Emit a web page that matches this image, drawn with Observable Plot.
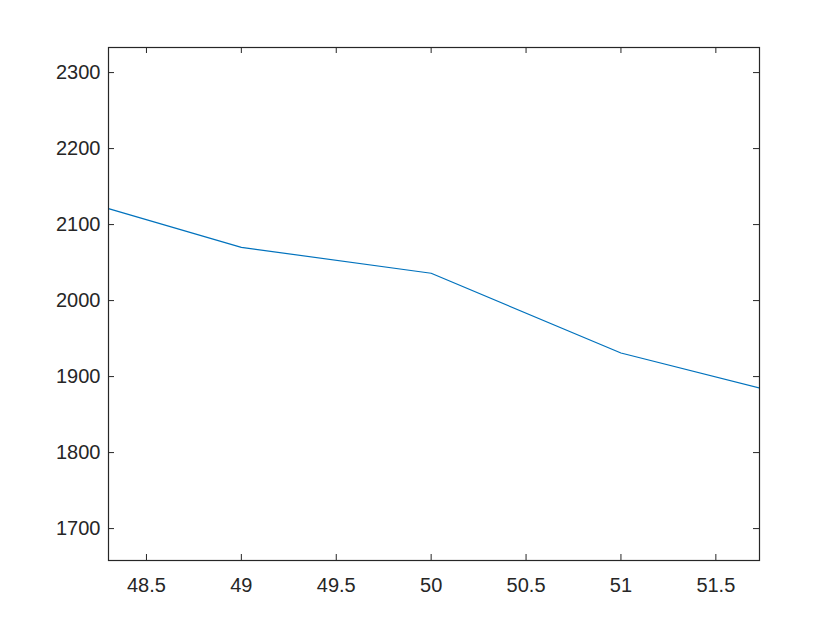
<!DOCTYPE html>
<html>
<head>
<meta charset="utf-8">
<script src="https://cdn.jsdelivr.net/npm/d3@7"></script>
<script src="https://cdn.jsdelivr.net/npm/@observablehq/plot@0.6"></script>
<style>
  html, body { margin: 0; padding: 0; background: #fff; }
</style>
</head>
<body>
<div id="chart"></div>
<script>
const xValues = [48.3, 49, 50, 51, 51.73];
const yValues = [2121, 2070, 2036, 1931, 1885];
const xTicks = [48.5, 49, 49.5, 50, 50.5, 51, 51.5];
const yTicks = [1700, 1800, 1900, 2000, 2100, 2200, 2300];
const xDomain = [48.3, 51.73];
const yDomain = [1658, 2333];

const data = xValues.map((x, i) => ({x, y: yValues[i]}));

const W = 840, H = 630;
const mL = 108, mR = 81, mT = 47, mB = 70;
const plotH = H - mT - mB;
const plotW = W - mL - mR;
const tickLen = 6;
const axisColor = "#262626";

const chart = Plot.plot({
  width: W,
  height: H,
  marginLeft: mL,
  marginRight: mR,
  marginTop: mT,
  marginBottom: mB,
  style: {fontFamily: "'Liberation Sans', Arial, Helvetica, sans-serif", fontSize: "20px", background: "#fff", color: axisColor},
  x: {domain: xDomain, label: null},
  y: {domain: yDomain, label: null},
  marks: [
    Plot.axisX({ticks: xTicks, tickSize: 0, tickPadding: 17, tickFormat: d => String(d), fontSize: 20, color: axisColor, label: null}),
    Plot.axisY({ticks: yTicks, tickSize: 0, tickPadding: 8, tickFormat: d => String(d), fontSize: 20, color: axisColor, label: null}),
    // inward ticks bottom and top
    Plot.tickX(xTicks, {x: d => d, insetTop: plotH - tickLen, stroke: axisColor, strokeWidth: 1}),
    Plot.tickX(xTicks, {x: d => d, insetBottom: plotH - tickLen, stroke: axisColor, strokeWidth: 1}),
    // inward ticks left and right
    Plot.tickY(yTicks, {y: d => d, insetRight: plotW - tickLen, stroke: axisColor, strokeWidth: 1}),
    Plot.tickY(yTicks, {y: d => d, insetLeft: plotW - tickLen, stroke: axisColor, strokeWidth: 1}),
    Plot.line(data, {x: "x", y: "y", stroke: "#0072BD", strokeWidth: 1.2, clip: true}),
    Plot.frame({stroke: axisColor, strokeWidth: 1.2})
  ]
});
document.getElementById("chart").appendChild(chart);
</script>
</body>
</html>
